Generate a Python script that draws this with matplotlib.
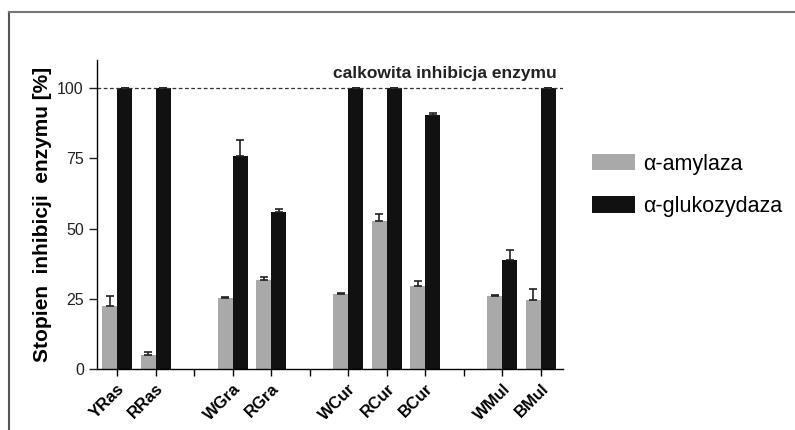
import numpy as np
import matplotlib
matplotlib.use("Agg")
import matplotlib.pyplot as plt
from matplotlib.lines import Line2D

plt.rcParams["font.family"] = ["Liberation Sans", "DejaVu Sans"]

# slots along the x axis; empty strings are the gaps between groups
samples = ["YRas", "RRas", "", "WGra", "RGra", "", "WCur", "RCur", "BCur", "", "WMul", "BMul"]
amylase = [22.6, 5.0, None, 25.2, 31.7, None, 26.8, 52.7, 29.7, None, 25.9, 24.7]
amylase_err = [3.4, 1.2, None, 0.3, 1.0, None, 0.4, 2.4, 1.5, None, 0.3, 3.8]
glucosidase = [100, 100, None, 75.7, 56.0, None, 100, 100, 90.5, None, 38.9, 100]
glucosidase_err = [0, 0, None, 5.9, 1.1, None, 0, 0, 0.8, None, 3.6, 0]

fig = plt.figure(figsize=(7.95, 4.30), dpi=100)
ax = fig.add_axes([0.122, 0.142, 0.586, 0.718])

pos = np.arange(len(samples))
idx = [i for i, s in enumerate(samples) if s]
w = 0.39

ax.bar(pos[idx] - w / 2, [amylase[i] for i in idx], width=w, color="#a9a9a9",
       yerr=[np.zeros(len(idx)), [amylase_err[i] for i in idx]],
       error_kw=dict(ecolor="#222222", elinewidth=1.2, capsize=3, capthick=1.2),
       label="α-amylaza")
ax.bar(pos[idx] + w / 2, [glucosidase[i] for i in idx], width=w, color="#111111",
       yerr=[np.zeros(len(idx)), [glucosidase_err[i] for i in idx]],
       error_kw=dict(ecolor="#222222", elinewidth=1.2, capsize=3, capthick=1.2),
       label="α-glukozydaza")

ax.axhline(100, color="#333333", lw=0.9, ls=(0, (3, 2)))
ax.text(11.42, 102.5, "calkowita inhibicja enzymu", ha="right", va="bottom",
        fontsize=12.5, fontweight="bold", color="#222222")

ax.set_xlim(-0.52, 11.57)
ax.set_ylim(0, 110)
ax.set_yticks([0, 25, 50, 75, 100])
ax.set_xticks(pos)
ax.set_xticklabels(samples, rotation=45, ha="right", rotation_mode="anchor",
                   fontsize=12, fontweight="bold")
ax.tick_params(axis="y", labelsize=11.5, length=6, width=1, colors="#222222")
ax.tick_params(axis="x", length=5, width=1)
for s in ["top", "right"]:
    ax.spines[s].set_visible(False)
for s in ["left", "bottom"]:
    ax.spines[s].set_linewidth(1)

ax.set_ylabel("Stopien  inhibicji  enzymu [%]", fontsize=15, fontweight="bold", labelpad=4)

ax.legend(loc="upper left", bbox_to_anchor=(1.02, 0.76), frameon=False,
          fontsize=15.5, handlelength=2.0, handleheight=0.8, labelspacing=1.0,
          handletextpad=0.4)

# outer frame of the original figure
fig.add_artist(Line2D([0.011, 0.011], [0.0, 0.972], color="#555555", lw=1.5))
fig.add_artist(Line2D([0.011, 1.0], [0.972, 0.972], color="#777777", lw=1.5))

fig.savefig("out.png", dpi=100)
